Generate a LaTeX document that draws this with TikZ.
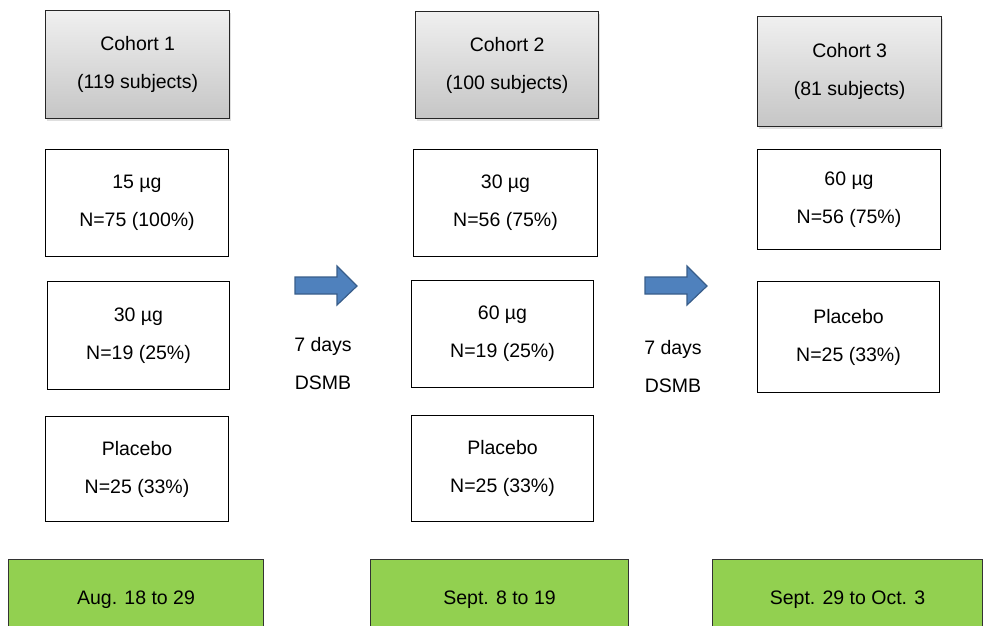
\documentclass[tikz,border=0pt]{standalone}
\usepackage{fontspec}
\setmainfont{Liberation Sans}
\usetikzlibrary{shadows}
\definecolor{arrowfill}{HTML}{4F81BD}
\definecolor{arrowdraw}{HTML}{385D8A}
\definecolor{greenfill}{HTML}{92D050}
\begin{document}
\begin{tikzpicture}[x=1pt,y=-1pt,
  txt/.style={font=\fontsize{19.5}{38}\selectfont, align=center, text=black},
  wbox/.style={txt, draw=black, line width=1pt, fill=white, inner sep=0pt, anchor=north west},
  gbox/.style={txt, draw=black!85, line width=1.3pt, top color=gray!12, bottom color=gray!45, inner sep=0pt, anchor=north west,
     drop shadow={shadow xshift=1pt, shadow yshift=-2pt, opacity=0.25}},
  grbox/.style={txt, draw=black!80, line width=1pt, fill=greenfill, inner sep=0pt, anchor=north west},
  fatarrow/.style={fill=arrowfill, draw=arrowdraw, line width=1.2pt, line join=miter},
  lbl/.style={txt, inner sep=0pt}
]
\useasboundingbox (0,0) rectangle (992,625);
% cohort headers
\node[gbox, minimum width=184pt, minimum height=108pt] (c1) at (45,10) {Cohort 1\\(119 subjects)};
\node[gbox, minimum width=183pt, minimum height=107pt] (c2) at (415,11) {Cohort 2\\(100 subjects)};
\node[gbox, minimum width=184pt, minimum height=110pt] (c3) at (757,16) {Cohort 3\\(81 subjects)};
% column 1
\node[wbox, minimum width=183pt, minimum height=107pt] (a1) at (45,149) {15 µg\\N=75 (100\%)};
\node[wbox, minimum width=182pt, minimum height=108pt] (a2) at (47,281) {30 µg\\N=19 (25\%)};
\node[wbox, minimum width=183pt, minimum height=105pt] (a3) at (45,416) {Placebo\\N=25 (33\%)};
% column 2
\node[wbox, minimum width=184pt, minimum height=107pt] (b1) at (413,149) {30 µg\\N=56 (75\%)};
\node[wbox, minimum width=182pt, minimum height=107pt] (b2) at (411,280) {60 µg\\N=19 (25\%)};
\node[wbox, minimum width=182pt, minimum height=106pt] (b3) at (411,415) {Placebo\\N=25 (33\%)};
% column 3
\node[wbox, minimum width=183pt, minimum height=100pt] (d1) at (757,149) {60 µg\\N=56 (75\%)};
\node[wbox, minimum width=182pt, minimum height=111pt] (d2) at (757,281) {Placebo\\N=25 (33\%)};
% dates
\node[grbox, minimum width=255pt, minimum height=80pt] (g1) at (8,559) {Aug. 18 to 29};
\node[grbox, minimum width=258pt, minimum height=80pt] (g2) at (370,559) {Sept. 8 to 19};
\node[grbox, minimum width=270pt, minimum height=80pt] (g3) at (712,559) {Sept. 29 to Oct. 3};
% arrows
\draw[fatarrow] (295,277) -- (337,277) -- (337,266) -- (357,286) -- (337,305) -- (337,294) -- (295,294) -- cycle;
\draw[fatarrow] (645,277) -- (687,277) -- (687,266) -- (707,286) -- (687,305) -- (687,294) -- (645,294) -- cycle;
\node[lbl] (t1) at (323,364) {7 days\\DSMB};
\node[lbl] (t2) at (673,367) {7 days\\DSMB};
\end{tikzpicture}
\end{document}
